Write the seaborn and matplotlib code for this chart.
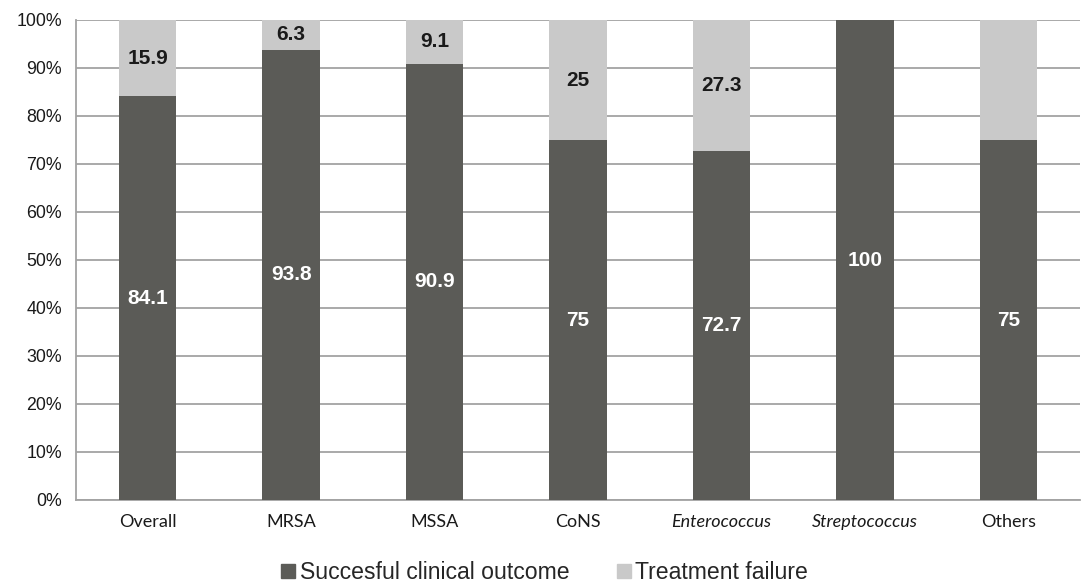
import matplotlib
matplotlib.use("Agg")
import matplotlib.pyplot as plt
from matplotlib.lines import Line2D
import seaborn as sns
import pandas as pd
import numpy as np

# Outcome by pathogen group (percent of patients)
groups = ["Overall", "MRSA", "MSSA", "CoNS", "Enterococcus", "Streptococcus", "Others"]
italic_groups = ["Enterococcus", "Streptococcus"]
success = [84.1, 93.8, 90.9, 75, 72.7, 100, 75]
failure = [15.9, 6.3, 9.1, 25, 27.3, 0, 25]
success_labels = ["84.1", "93.8", "90.9", "75", "72.7", "100", "75"]
failure_labels = ["15.9", "6.3", "9.1", "25", "27.3", "", ""]
yticks = [0, 10, 20, 30, 40, 50, 60, 70, 80, 90, 100]

dark = "#5b5b57"
light = "#c9c9c9"
grid = "#a3a3a3"
text_col = "#1a1a1a"
sans = ["Liberation Sans", "DejaVu Sans"]

sns.set_theme(style="white")
plt.rcParams["font.family"] = sans

df = pd.DataFrame({"group": groups, "success": success,
                   "total": np.array(success) + np.array(failure)})

fig = plt.figure(figsize=(10.86, 5.84), dpi=100)
ax = fig.add_axes([76 / 1086, 84 / 584, (1080 - 76) / 1086, 480 / 584])

sns.barplot(data=df, x="group", y="total", color=light, width=0.4,
            saturation=1, linewidth=0, ax=ax, zorder=2)
sns.barplot(data=df, x="group", y="success", color=dark, width=0.4,
            saturation=1, linewidth=0, ax=ax, zorder=3)

ax.set_ylim(0, 100)
ax.set_xlim(-0.5, len(groups) - 0.5)
ax.set_yticks(yticks)
ax.set_yticklabels([f"{v}%" for v in yticks], fontsize=12.8, color=text_col,
                   family=sans)
ax.yaxis.grid(True, color=grid, linewidth=1.3, zorder=0)
ax.set_axisbelow(True)
ax.set_xlabel("")
ax.set_ylabel("")

# category labels, genus names in italics
ax.set_xticks(range(len(groups)))
ax.set_xticklabels(groups)
for lbl in ax.get_xticklabels():
    lbl.set_fontfamily(["Lato", "DejaVu Sans"])
    lbl.set_fontsize(13)
    lbl.set_color(text_col)
    if lbl.get_text() in italic_groups:
        lbl.set_fontstyle("italic")
ax.tick_params(axis="x", which="major", length=0, pad=10)
ax.set_xticks(np.arange(-0.5, len(groups), 1.0), minor=True)
ax.tick_params(axis="x", which="minor", length=6, color=grid, width=1.3)
ax.tick_params(axis="y", length=6, color=grid, width=1.3, pad=4)

for side in ["top", "right"]:
    ax.spines[side].set_visible(False)
for side in ["left", "bottom"]:
    ax.spines[side].set_color(grid)
    ax.spines[side].set_linewidth(1.3)

# value labels centred in each segment
for i in range(len(groups)):
    if success_labels[i]:
        ax.text(i, success[i] / 2, success_labels[i], ha="center",
                va="center", color="white", fontsize=15, fontweight="bold",
                family=sans, zorder=5)
    if failure_labels[i]:
        ax.text(i, success[i] + failure[i] / 2, failure_labels[i], ha="center",
                va="center", color=text_col, fontsize=15, fontweight="bold",
                family=sans, zorder=5)

handles = [
    Line2D([], [], marker="s", linestyle="", markersize=10, color=dark,
           label="Succesful clinical outcome"),
    Line2D([], [], marker="s", linestyle="", markersize=10, color=light,
           label="Treatment failure"),
]
fig.legend(handles=handles, loc="lower center", bbox_to_anchor=(0.5, -0.035),
           ncol=2, frameon=False, handletextpad=0.05,
           columnspacing=1.9, handlelength=0.9,
           prop={"family": sans, "size": 16.6})

fig.savefig("out.png", dpi=100)
